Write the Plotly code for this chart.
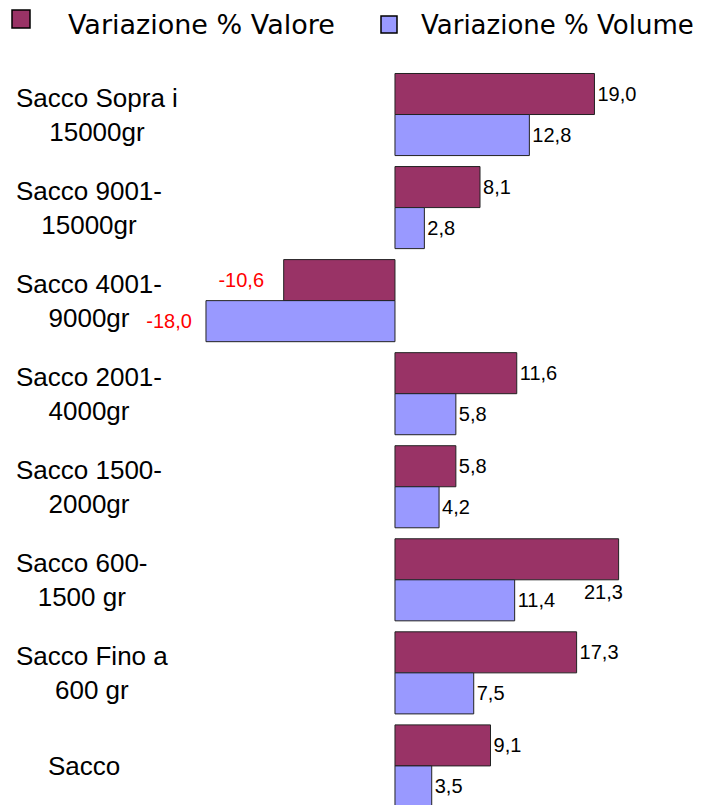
import plotly.graph_objects as go

categories = ["Sacco Sopra i<br>15000gr", "Sacco 9001-<br>15000gr", "Sacco 4001-<br>9000gr",
              "Sacco 2001-<br>4000gr", "Sacco 1500-<br>2000gr", "Sacco 600-<br>1500 gr",
              "Sacco Fino a<br>600 gr", "Sacco"]
cat_ids = ["c%d" % i for i in range(len(categories))]
valore = [19.0, 8.1, -10.6, 11.6, 5.8, 21.3, 17.3, 9.1]
volume = [12.8, 2.8, -18.0, 5.8, 4.2, 11.4, 7.5, 3.5]
series_names = ["Variazione % Valore", "Variazione % Volume"]
series_colors = ["#993366", "#9999FF"]

NB = "\u00a0"
LABEL_FONT = "Liberation Sans, Arial"
LEGEND_FONT = "DejaVu Sans, Verdana"

W, H = 699, 797
ML, MR, MT, MB = 192, 17, 60, 0
PW, PH = W - ML - MR, H - MT - MB

def px(fx):
    return (fx - ML) / PW

def py(fy):
    return 1 + (MT - fy) / PH

def fmt(v):
    return f"{v:.1f}".replace(".", ",")

def labels(vals):
    return [fmt(v) + (NB * 2 if v < 0 else "") for v in vals]

def label_colors(vals):
    return ["#FF0000" if v < 0 else "#000000" for v in vals]

# the largest value label sits below the bar end in the original
max_idx = max(range(len(valore)), key=lambda i: valore[i])
val_pos = ["none" if i == max_idx else "outside" for i in range(len(valore))]

fig = go.Figure()
fig.add_trace(go.Bar(
    y=cat_ids, x=valore, orientation="h", name=series_names[0],
    marker=dict(color=series_colors[0], line=dict(color="#222222", width=1)),
    text=[t + (NB if v < 0 else "") for t, v in zip(labels(valore), valore)],
    textposition=val_pos,
    textfont=dict(family=LABEL_FONT, size=20, color=label_colors(valore)),
    cliponaxis=False,
))
fig.add_trace(go.Bar(
    y=cat_ids, x=volume, orientation="h", name=series_names[1],
    marker=dict(color=series_colors[1], line=dict(color="#222222", width=1)),
    text=labels(volume), textposition="outside",
    textfont=dict(family=LABEL_FONT, size=20, color=label_colors(volume)),
    cliponaxis=False,
))

fig.add_annotation(x=valore[max_idx], xref="x", y=cat_ids[max_idx], yref="y",
                   text=fmt(valore[max_idx]), showarrow=False, xanchor="right",
                   yanchor="middle", xshift=6, yshift=-12,
                   font=dict(family=LABEL_FONT, size=20, color="#000000"))

# category labels: two-line blocks start at the left edge, lines centred in the block
for cid, lab in zip(cat_ids, categories):
    if "<br>" in lab:
        ax, anchor = px(6), "left"
    else:
        ax, anchor = px(76), "center"
    fig.add_annotation(x=ax, xref="paper", y=cid, yref="y", text=lab,
                       showarrow=False, xanchor=anchor, yanchor="middle", align="center",
                       font=dict(family=LABEL_FONT, size=26, color="#000000"))

# legend drawn manually (swatch box + text)
legend_items = [
    (series_names[0], series_colors[0], (4, 22, 2, 20), 58, 27),
    (series_names[1], series_colors[1], (373, 389, 8, 25), 411, 26),
]
for name, col, (x0, x1, y0, y1), tx, fs in legend_items:
    fig.add_shape(type="rect", xref="paper", yref="paper",
                  x0=px(x0), x1=px(x1), y0=py(y1), y1=py(y0),
                  fillcolor=col, line=dict(color="#000000", width=1.5))
    fig.add_annotation(x=px(tx), xref="paper", y=py(17), yref="paper", text=name,
                       showarrow=False, xanchor="left", yanchor="middle",
                       font=dict(family=LEGEND_FONT, size=fs, color="#000000"))

fig.update_layout(
    width=W, height=H,
    margin=dict(l=ML, r=MR, t=MT, b=MB),
    paper_bgcolor="white", plot_bgcolor="white",
    barmode="group", bargap=0.118, bargroupgap=0,
    showlegend=False,
    xaxis=dict(range=[-18.57, 28.1], visible=False, zeroline=False, showgrid=False),
    yaxis=dict(type="category", categoryorder="array", categoryarray=cat_ids,
               range=[7.42, -0.5], showticklabels=False, showgrid=False, zeroline=False,
               showline=False, ticks=""),
)

fig.write_html("out.html")
